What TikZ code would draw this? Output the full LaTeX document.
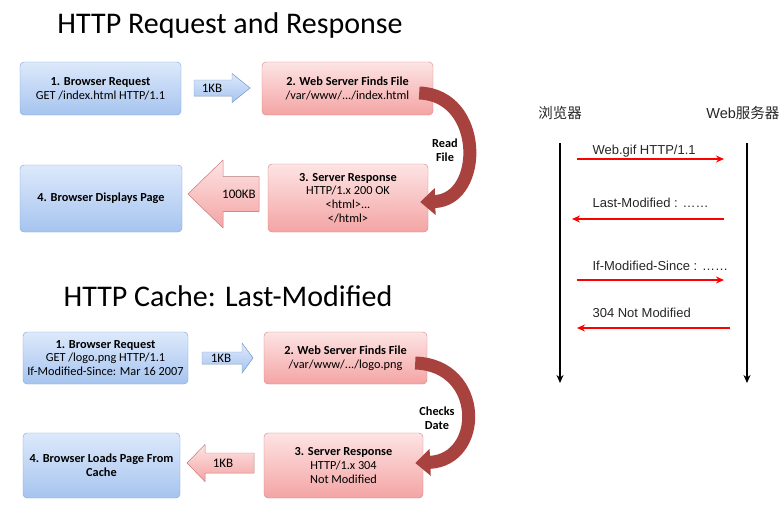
\documentclass[tikz,border=0pt]{standalone}
\usepackage{fontspec}
\usepackage{xcolor}
\setmainfont{Carlito}
\newfontfamily\arialfont{Liberation Sans}
\newfontfamily\cjk{Noto Sans CJK SC}
\usetikzlibrary{arrows.meta}
\definecolor{bluetop}{HTML}{DDE9FB}
\definecolor{bluebot}{HTML}{A6C4EF}
\definecolor{blueline}{HTML}{7BA3D8}
\definecolor{redtop}{HTML}{FDE4E4}
\definecolor{redbot}{HTML}{F4A4A4}
\definecolor{redline}{HTML}{D98282}
\definecolor{turnred}{HTML}{A8423F}

\begin{document}
\begin{tikzpicture}[x=1pt,y=-1pt,
    box/.style={draw,rounded corners=4pt,inner sep=0pt,align=center,
      font=\fontsize{12.3}{13.6}\selectfont},
    bluebox/.style={box,draw=blueline,top color=bluetop,bottom color=bluebot},
    redbox/.style={box,draw=redline,top color=redtop,bottom color=redbot},
    bluearrow/.style={draw=blueline,top color=bluetop,bottom color=bluebot},
    redarrow/.style={draw=redline,top color=redtop,bottom color=redbot},
    kb/.style={font=\fontsize{13}{14}\selectfont},
    turn/.style={draw=turnred,line width=13pt,-{Triangle[length=15pt,width=26pt]}},
    note/.style={font=\fontsize{12.3}{14.5}\selectfont\bfseries,align=center},
    msg/.style={red,line width=1.4pt,-{Stealth[length=8pt,width=7pt]}},
    life/.style={black,line width=1.4pt,-{Stealth[length=8pt,width=7pt]}},
    seq/.style={font=\arialfont\fontsize{13}{15}\selectfont,text=black!85,anchor=base west}]
   \useasboundingbox (0,0) rectangle (783,511);

   % HTTP Request and Response
   \node (title1) at (230,26) {\fontsize{30}{32}\selectfont HTTP Request and Response};
   \node[bluebox,minimum width=161pt,minimum height=53pt] (req1) at (100.5,88.5)
      {\textbf{1. Browser Request}\\GET /index.html HTTP/1.1};
   \node[redbox,minimum width=171pt,minimum height=53pt] (find1) at (347.5,88.5)
      {\textbf{2. Web Server Finds File}\\/var/www/.../index.html};
   \node[redbox,minimum width=160pt,minimum height=68pt] (resp1) at (348,198)
      {\textbf{3. Server Response}\\HTTP/1.x 200 OK\\<html>...\\</html>};
   \node[bluebox,minimum width=162pt,minimum height=67pt] (show1) at (101,198.5)
      {\textbf{4. Browser Displays Page}};
   \filldraw[bluearrow] (194,80) -- (232,80) -- (232,73.5) -- (250,88) -- (232,102.5)
      -- (232,96) -- (194,96) -- cycle;
   \node[kb] (kb1) at (212,88) {1KB};
   \filldraw[redarrow] (259,176.5) -- (223,176.5) -- (223,160) -- (188,194) -- (223,228)
      -- (223,211.5) -- (259,211.5) -- cycle;
   \node[kb] (kb2) at (239,194) {100KB};
   \draw[turn] ([xshift=-14pt,yshift=-4.5pt]find1.east) .. controls (484,95) and (484,200)
      .. ([xshift=-8pt,yshift=-4pt]resp1.east);
   \node[note] (read) at (445,150) {Read\\File};

   % HTTP Cache: Last-Modified
   \node (title2) at (228,296) {\fontsize{30}{32}\selectfont HTTP Cache: Last-Modified};
   \node[bluebox,minimum width=165pt,minimum height=52pt] (req2) at (105.5,358)
      {\textbf{1. Browser Request}\\GET /logo.png HTTP/1.1\\If-Modified-Since: Mar 16 2007};
   \node[redbox,minimum width=163pt,minimum height=52pt] (find2) at (345.5,358)
      {\textbf{2. Web Server Finds File}\\/var/www/.../logo.png};
   \node[redbox,minimum width=159pt,minimum height=65pt] (resp2) at (343.5,465.5)
      {\textbf{3. Server Response}\\HTTP/1.x 304\\Not Modified};
   \node[bluebox,minimum width=157pt,minimum height=65pt] (show2) at (101.5,465.5)
      {\textbf{4. Browser Loads Page From}\\\textbf{Cache}};
   \filldraw[bluearrow] (202,352) -- (242,352) -- (242,343) -- (253,358) -- (242,373)
      -- (242,364) -- (202,364) -- cycle;
   \node[kb] (kb3) at (221,358) {1KB};
   \filldraw[redarrow] (254,453) -- (205,453) -- (205,444.5) -- (187,463) -- (205,481.5)
      -- (205,473) -- (254,473) -- cycle;
   \node[kb] (kb4) at (223,463) {1KB};
   \draw[turn] ([xshift=-12pt,yshift=-5pt]find2.east) .. controls (484,365) and (484,460)
      .. ([xshift=-8pt,yshift=2.5pt]resp2.east);
   \node[note] (check) at (437,418) {Checks\\Date};

   % Last-Modified sequence
   \node[font=\cjk\fontsize{14.5}{16}\selectfont,text=black!85] (browser) at (560,113) {浏览器};
   \node[font=\arialfont\fontsize{14.5}{16}\selectfont,text=black!85,anchor=east] (server) at (783,113)
      {Web{\cjk 服务器}};
   \coordinate (btop) at (560,143);
   \coordinate (bbot) at (560,383);
   \coordinate (stop) at (747,143);
   \coordinate (sbot) at (747,383);
   \draw[life] (btop) -- (bbot);
   \draw[life] (stop) -- (sbot);
   \draw[msg] (577,159) -- (724,159);
   \node[seq] (get) at (589,154) {Web.gif HTTP/1.1};
   \draw[msg] (724,219) -- (572,219);
   \node[seq] (last) at (589,207) {Last-Modified : ……};
   \draw[msg] (577,280) -- (724,280);
   \node[seq] (since) at (589,270) {If-Modified-Since : ……};
   \draw[msg] (730,328) -- (577,328);
   \node[seq] (notmod) at (589,317) {304 Not Modified};
\end{tikzpicture}
\end{document}
